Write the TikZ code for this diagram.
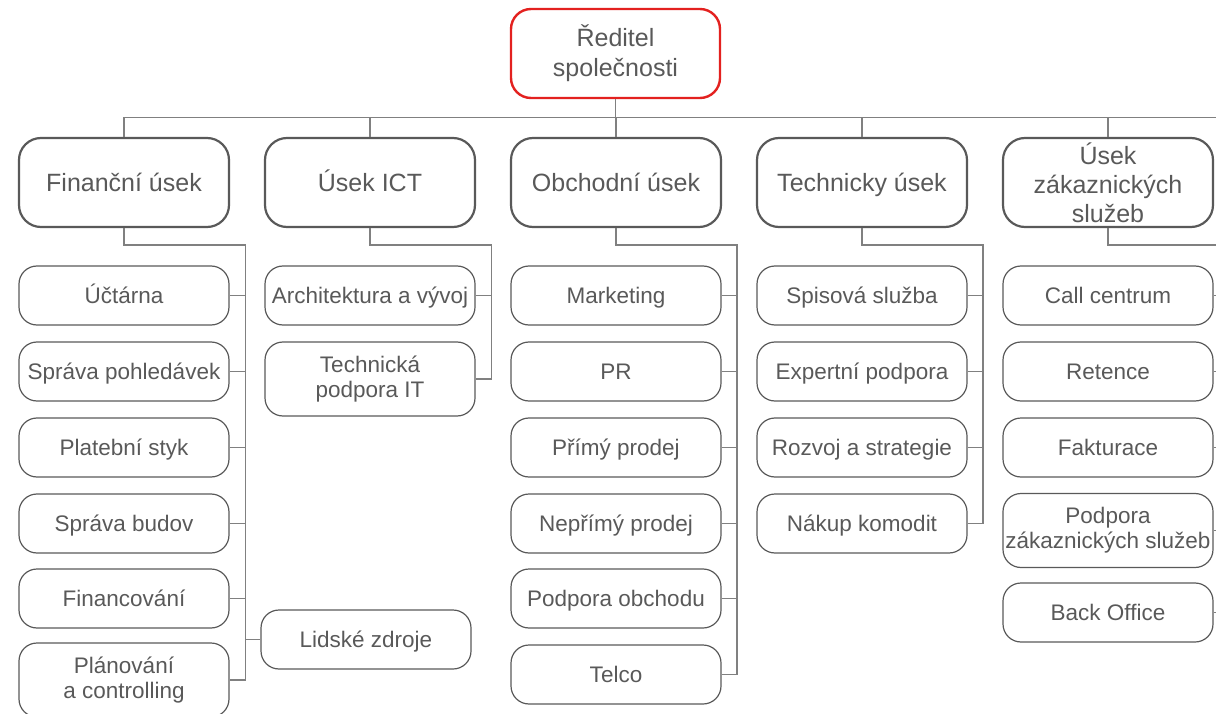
\documentclass[tikz,border=0pt]{standalone}
\usepackage{fontspec}
\setmainfont{Liberation Sans}
\usepackage{tikz}
\usetikzlibrary{calc}

\definecolor{txtgray}{HTML}{595959}
\definecolor{linegray}{HTML}{808080}
\definecolor{bossred}{HTML}{E3211F}

\tikzset{
  boss/.style={shape=rectangle, rounded corners=20pt, draw=bossred, line width=2.4pt,
    minimum width=209pt, minimum height=89pt, inner sep=1pt, align=center,
    text=txtgray, font=\fontsize{25}{30}\selectfont},
  deptbox/.style={shape=rectangle, rounded corners=22pt, draw=txtgray, line width=2.2pt,
    minimum width=210pt, minimum height=89pt, inner xsep=2pt, inner ysep=0pt, align=center,
    text=txtgray, font=\fontsize{25}{29}\selectfont},
  dept/.style={deptbox, text height=18pt, text depth=0pt},
  unitbox/.style={shape=rectangle, rounded corners=18pt, draw=txtgray, line width=1.2pt,
    minimum width=210pt, minimum height=59pt, inner xsep=2pt, inner ysep=1pt, align=center,
    text=txtgray, font=\fontsize{22.5}{25}\selectfont},
  unit/.style={unitbox, text height=16.5pt, text depth=0pt},
  unittall/.style={unitbox, minimum height=74pt},
  link/.style={draw=linegray, line width=1.2pt}
}

\begin{document}
\begin{tikzpicture}[x=1pt,y=-1pt]
	\useasboundingbox (0,0) rectangle (1216,714);
	\clip (0,0) rectangle (1216,714);
	
	\node[boss] (boss) at (615.5,53.5) {Ředitel\\společnosti};
	
	\node[dept] (fin)  at (124,182.5)  {Finanční úsek};
	\node[dept] (ict)  at (370,182.5)  {Úsek ICT};
	\node[dept] (obch) at (616,182.5)  {Obchodní úsek};
	\node[dept] (tech) at (862,182.5)  {Technicky úsek};
	\node[deptbox] (zak) at (1108,182.5) {Úsek\\zákaznických\\služeb};
	
	% financni usek
	\node[unit] (ucetni)   at (124,295.5) {Účtárna};
	\node[unit] (pohled)   at (124,371.5) {Správa pohledávek};
	\node[unit] (platebni) at (124,447.5) {Platební styk};
	\node[unit] (budovy)   at (124,523.5) {Správa budov};
	\node[unit] (financ)   at (124,598.5) {Financování};
	\node[unittall] (planovani) at (124,680) {Plánování\\a controlling};
	\node[unit] (lidske)   at (366,639.5) {Lidské zdroje};
	
	% usek ICT
	\node[unit] (archit)   at (370,295.5) {Architektura a vývoj};
	\node[unittall] (techpod) at (370,379) {Technická\\podpora IT};
	
	% obchodni usek
	\node[unit] (marketing) at (616,295.5) {Marketing};
	\node[unit] (pr)        at (616,371.5) {PR};
	\node[unit] (primy)     at (616,447.5) {Přímý prodej};
	\node[unit] (neprimy)   at (616,523.5) {Nepřímý prodej};
	\node[unit] (podobch)   at (616,598.5) {Podpora obchodu};
	\node[unit] (telco)     at (616,674.5) {Telco};
	
	% technicky usek
	\node[unit] (spisova)  at (862,295.5) {Spisová služba};
	\node[unit] (expert)   at (862,371.5) {Expertní podpora};
	\node[unit] (rozvoj)   at (862,447.5) {Rozvoj a strategie};
	\node[unit] (nakup)    at (862,523.5) {Nákup komodit};
	
	% usek zakaznickych sluzeb
	\node[unit] (call)     at (1108,295.5) {Call centrum};
	\node[unit] (retence)  at (1108,371.5) {Retence};
	\node[unit] (faktur)   at (1108,447.5) {Fakturace};
	\node[unittall] (podzak) at (1108,530.5) {Podpora\\zákaznických služeb};
	\node[unit] (backoff)  at (1108,612.5) {Back Office};
	
	% top bus
	\coordinate (busL) at (124,117.5);
	\coordinate (busR) at (1230,117.5);
	\draw[link] (busL) -- (busR);
	\draw[link] (boss.south) -- (boss.south |- busL);
	\foreach \d in {fin,ict,obch,tech,zak}
		\draw[link] (\d.north) -- (\d.north |- busL);
	
	% rails
	\coordinate (finrail)  at (245.5,245);
	\coordinate (finend)   at (245.5,680);
	\coordinate (ictrail)  at (491.5,245);
	\coordinate (ictend)   at (491.5,379);
	\coordinate (obchrail) at (737,245);
	\coordinate (obchend)  at (737,674.5);
	\coordinate (techrail) at (983,245);
	\coordinate (techend)  at (983,523.5);
	\coordinate (zakrail)  at (1228,245);
	\coordinate (zakend)   at (1228,612.5);
	
	\draw[link] (fin.south)  |- (finrail)  -- (finend);
	\draw[link] (ict.south)  |- (ictrail)  -- (ictend);
	\draw[link] (obch.south) |- (obchrail) -- (obchend);
	\draw[link] (tech.south) |- (techrail) -- (techend);
	\draw[link] (zak.south)  |- (zakrail)  -- (zakend);
	
	\foreach \u in {ucetni,pohled,platebni,budovy,financ,planovani}
		\draw[link] (\u.east) -- (\u.east -| finrail);
	\draw[link] (lidske.west) -- (lidske.west -| finrail);
	\foreach \u in {archit,techpod}
		\draw[link] (\u.east) -- (\u.east -| ictrail);
	\foreach \u in {marketing,pr,primy,neprimy,podobch,telco}
		\draw[link] (\u.east) -- (\u.east -| obchrail);
	\foreach \u in {spisova,expert,rozvoj,nakup}
		\draw[link] (\u.east) -- (\u.east -| techrail);
	\foreach \u in {call,retence,faktur,podzak,backoff}
		\draw[link] (\u.east) -- (\u.east -| zakrail);
\end{tikzpicture}
\end{document}
